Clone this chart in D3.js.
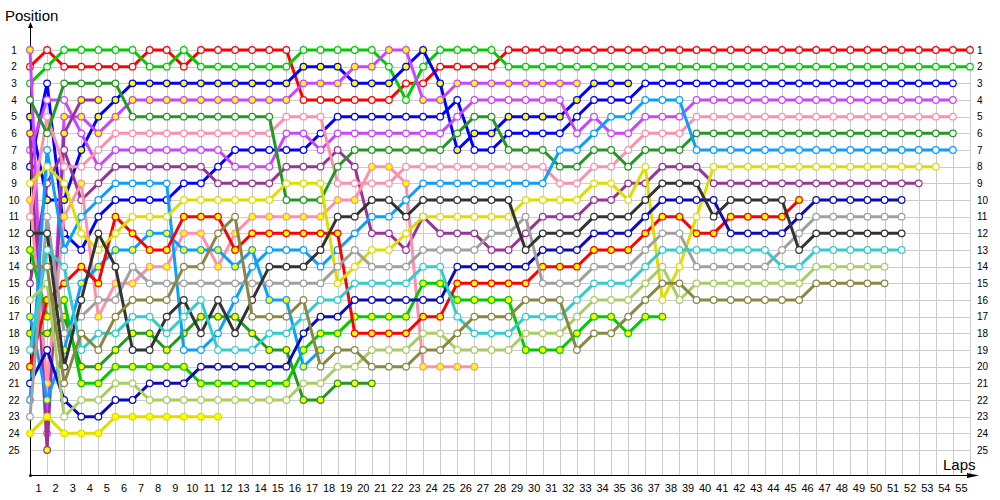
<!DOCTYPE html>
<html>
<head>
<meta charset="utf-8">
<script src="https://cdn.jsdelivr.net/npm/d3@7"></script>
<style>
  body { margin: 0; background: #fff; }
  text { font-family: "Liberation Sans", Arial, sans-serif; }
</style>
</head>
<body>
<svg id="chart" width="1000" height="500"></svg>
<script>

// positions after each lap (index 0 = grid)
let redA     = [2,1,2,2,2,2,2,1,1,2, 1,1,1,1,1,1,4,4,4,4, 4,4,3,3,2,2,2,2,1,1, 1,1,1,1,1,1,1,1,1,1, 1,1,1,1,1,1,1,1,1,1, 1,1,1,1,1,1];
let greenA   = [3,2,1,1,1,1,1,2,2,1, 2,2,2,2,2,2,1,1,1,1, 1,2,4,2,1,1,1,1,2,2, 2,2,2,2,2,2,2,2,2,2, 2,2,2,2,2,2,2,2,2,2, 2,2,2,2,2,2];
let blueA    = [5,10,10,7,5,4,3,3,3,3, 3,3,3,3,3,3,2,2,2,3, 3,3,2,1,3,7,6,6,5,5, 5,5,4,3,3,3];
let blueB    = [8,3,12,13,11,10,10,10,10,9, 9,8,7,7,7,7,7,6,5,5, 5,5,5,5,5,4,7,7,6,6, 6,6,5,4,4,4,3,3,3,3, 3,3,3,3,3,3,3,3,3,3, 3,3,3,3,3];
let violetA  = [1,24,5,5,6,5,4,4,4,4, 4,4,4,4,4,4,3,3,3,2, 2,1,1,4,4,3,3,3,3,3, 3,3,3];
let violetB  = [7,4,4,6,8,7,7,7,7,7, 7,7,8,8,8,6,6,7,6,6, 6,6,6,6,6,5,4,4,4,4, 4,4,6,5,6,6,5,5,5,4, 4,4,4,4,4,4,4,4,4,4, 4,4,4,4,4];
let purpleA  = [6,25,6,4,4];
let purpleB  = [15,9,7,10,9,8,8,8,8,8, 8,9,9,9,9,8,8,8,7,8, 12,12,13,11,12,12,12,13,13,12, 11,11,11,10,10,9,9,8,8,8, 9,9,9,9,9,9,9,9,9,9, 9,9,9];
let pinkA    = [10,21,11,9,17,15,15,14,14,12, 12,14,12,11,11,11,11,11,10,10, 8,8,9,20,20,20,20];
let pinkB    = [11,5,8,8,7,6,6,6,6,6, 6,6,6,6,6,5,5,5,9,9, 9,9,8,8,8,8,8,8,8,8, 8,9,9,8,8,7,6,6,6,5, 5,5,5,5,5,5,5,5,5,5, 5,5,5,5,5];
let dkgreenA = [4,6,3,3,3,3,5,5,5,5, 5,5,5,5,5,10,10,10,8,7, 7,7,7,7,7,6,5,5,7,7, 7,8,8,7,7,8,7,7,7,6, 6,6,6,6,6,6,6,6,6,6, 6,6,6,6,6];
let dkgreenB = [18,18,17,20,20,19,18,18,19,18, 17,17,17,18,19,19,22,22,21,21, 21];
let greenB   = [13,17,16,21,21,20,20,20,20,20, 21,21,21,21,21,21,19,18,18,17, 17,17,17,15,15,16,16,16,16,19, 19,19,18,17,17,18,17,17];
let skyA     = [17,22,19,15,14,13,13,12,12,13, 13,13,14,13,16,16,20,19];
let skyB     = [22,7,13,11,10,9,9,9,9,19, 19,18,16,14,13,13,13,14,13,12, 11,11,10,9,9,9,9,9,9,9, 9,7,7,6,5,5,4,4,4,7, 7,7,7,7,7,7,7,7,7,7, 7,7,7,7,7];
let redB     = [20,16,15,14,15,11,12,13,13,11, 11,11,13,12,12,12,12,12,12,18, 18,18,18,17,17,15,15,15,15,15, 14,14,14,13,13,13,12,11,11,12, 12,11,11,11,11,10];
let yellowA  = [9,8,9,12,13,12,11,11,11,10, 10,10,10,10,10,9,9,9,15,14, 13,13,12,11,11,11,11,11,11,10, 10,10,10,9,9,10,8,16,14,11, 8,8,8,8,8,8,8,8,8,8, 8,8,8,8];
let yellowB  = [24,23,24,24,24,23,23,23,23,23, 23,23];
let navy     = [21,19,22,23,23,22,22,21,21,21, 20,20,20,20,20,20,18,17,17,16, 16,16,16,16,16,14,14,14,14,14, 13,13,13,12,12,12,11,10,10,10, 10,12,12,12,12,11,10,10,10,10, 10,10];
let gray     = [23,11,18,17,16,16,14,15,15,15, 15,15,15,15,15,15,15,15,14,13, 14,14,14,13,13,13,13,12,12,11, 15,15,15,14,14,14,13,12,12,14, 14,14,14,14,13,12,11,11,11,11, 11,11];
let dkgray   = [12,12,20,16,12,14,19,19,17,16, 18,16,18,16,14,14,14,13,11,11, 10,10,11,10,10,10,10,10,10,13, 12,12,12,11,11,11,10,9,9,9, 11,10,10,10,10,13,12,12,12,12, 12,12];
let teal     = [19,13,14,19,18,18,17,17,18,17, 16,19,19,19,18,18,17,16,16,15, 15,15,15,14,14,17,18,18,18,17, 17,17,16,15,15,15,14,13,13,13, 13,13,13,13,14,14,13,13,13,13, 13,13];
let ltolive  = [16,15,23,22,22,21,21,22,22,22, 22,22,22,22,22,22,21,21,20,20, 19,19,19,18,18,19,19,19,19,18, 18,18,17,16,16,16,15,14,16,15, 15,15,15,15,15,15,14,14,14,14, 14];
let olive    = [14,14,21,18,19,17,16,16,16,14, 14,12,11,17,17,17,16,20,19,19, 20,20,20,19,19,18,17,17,17,16, 16,16,19,18,18,17,16,15,15,16, 16,16,16,16,16,16,15,15,15,15, 15];

let lapTicks = d3.range(1, 56);
let posTicks = d3.range(1, 26);

let series = [
    {color: '#ff0000', yellow: false, pos: redA},
    {color: '#00cc00', yellow: false, pos: greenA},
    {color: '#0000ff', yellow: true,  pos: blueA},
    {color: '#0000ff', yellow: false, pos: blueB},
    {color: '#cc44ff', yellow: true,  pos: violetA},
    {color: '#cc44ff', yellow: false, pos: violetB},
    {color: '#993399', yellow: true,  pos: purpleA},
    {color: '#993399', yellow: false, pos: purpleB},
    {color: '#ff8fab', yellow: true,  pos: pinkA},
    {color: '#ff8fab', yellow: false, pos: pinkB},
    {color: '#229922', yellow: false, pos: dkgreenA},
    {color: '#229922', yellow: true,  pos: dkgreenB},
    {color: '#00cc00', yellow: true,  pos: greenB},
    {color: '#0aa0ff', yellow: true,  pos: skyA},
    {color: '#0aa0ff', yellow: false, pos: skyB},
    {color: '#ff0000', yellow: true,  pos: redB},
    {color: '#dddd00', yellow: false, pos: yellowA},
    {color: '#dddd00', yellow: true,  pos: yellowB},
    {color: '#0b0bbb', yellow: false, pos: navy},
    {color: '#a0a0a0', yellow: false, pos: gray},
    {color: '#333333', yellow: false, pos: dkgray},
    {color: '#33cccc', yellow: false, pos: teal},
    {color: '#aacc66', yellow: false, pos: ltolive},
    {color: '#888844', yellow: false, pos: olive}
];

let svg = d3.select('#chart');

let x = d3.scaleLinear().domain([0, 55]).range([30, 970]),
    y = d3.scaleLinear().domain([1, 25]).range([50, 450]);

let axisY = 475;

// grid
let grid = svg.append('g')
    .attr('stroke', '#cccccc')
    .attr('stroke-width', 1)
    .attr('shape-rendering', 'crispEdges');

grid.selectAll('.v')
    .data(d3.range(0, 56))
    .enter()
    .append('line')
    .attr('x1', d => Math.round(x(d)) + 0.5)
    .attr('x2', d => Math.round(x(d)) + 0.5)
    .attr('y1', 44)
    .attr('y2', axisY);

grid.selectAll('.h')
    .data(posTicks)
    .enter()
    .append('line')
    .attr('x1', x(0))
    .attr('x2', x(55))
    .attr('y1', d => Math.round(y(d)) + 0.5)
    .attr('y2', d => Math.round(y(d)) + 0.5);

// axes
svg.append('line')
    .attr('x1', 30.5).attr('x2', 30.5)
    .attr('y1', 26).attr('y2', axisY)
    .attr('stroke', 'black');

svg.append('path')
    .attr('d', 'M30.5,22 L28,28 L33,28 Z')
    .attr('fill', 'black');

svg.append('line')
    .attr('x1', 30).attr('x2', 972)
    .attr('y1', axisY + 0.5).attr('y2', axisY + 0.5)
    .attr('stroke', 'black');

svg.append('path')
    .attr('d', 'M979,475.5 L967,473 L967,478 Z')
    .attr('fill', 'black');

svg.append('circle')
    .attr('cx', 30.5).attr('cy', axisY + 0.5).attr('r', 1.5)
    .attr('fill', 'black');

// axis labels
svg.selectAll('.ly')
    .data(posTicks)
    .enter()
    .append('text')
    .attr('x', 14)
    .attr('y', d => y(d) + 3.5)
    .attr('text-anchor', 'middle')
    .attr('font-size', 10)
    .text(d => d);

svg.selectAll('.ry')
    .data(posTicks)
    .enter()
    .append('text')
    .attr('x', 977)
    .attr('y', d => y(d) + 3.5)
    .attr('font-size', 10)
    .text(d => d);

svg.selectAll('.lx')
    .data(lapTicks)
    .enter()
    .append('text')
    .attr('x', d => x(d - 0.5))
    .attr('y', 492)
    .attr('text-anchor', 'middle')
    .attr('font-size', 11)
    .text(d => d);

svg.append('text')
    .attr('x', 5).attr('y', 21)
    .attr('font-size', 15)
    .text('Position');

svg.append('text')
    .attr('x', 943).attr('y', 470)
    .attr('font-size', 15)
    .text('Laps');

// lap lines
let line = d3.line()
    .x((d, i) => x(i))
    .y(d => y(d));

series.forEach(function (s) {

    let g = svg.append('g');

    g.append('path')
        .attr('d', line(s.pos))
        .attr('fill', 'none')
        .attr('stroke', s.color)
        .attr('stroke-width', 3)
        .attr('stroke-linejoin', 'round');

    g.selectAll('circle')
        .data(s.pos)
        .enter()
        .append('circle')
        .attr('cx', (d, i) => x(i))
        .attr('cy', d => y(d))
        .attr('r', 3.3)
        .attr('fill', s.yellow ? '#ffff00' : 'white')
        .attr('stroke', s.color)
        .attr('stroke-width', 1.2);

});

</script>
</body>
</html>
